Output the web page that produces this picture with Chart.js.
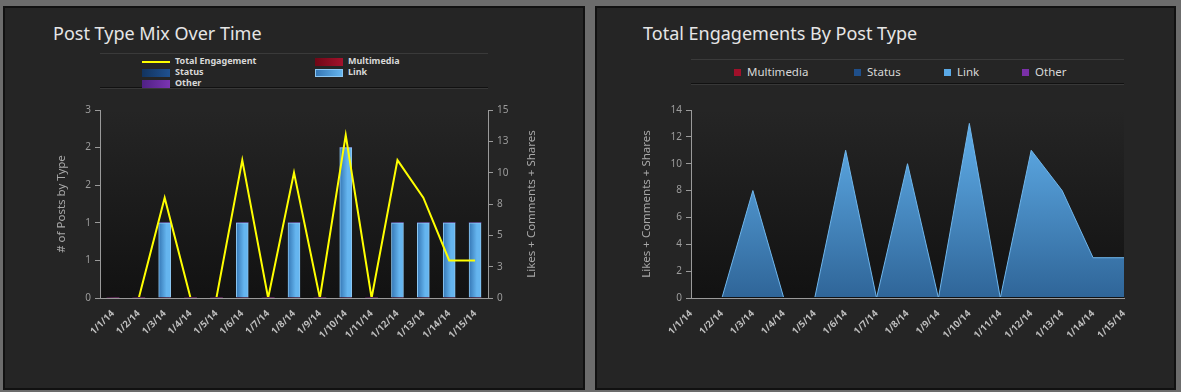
<!DOCTYPE html>
<html>
<head>
<meta charset="utf-8">
<script src="https://cdn.jsdelivr.net/npm/chart.js@4/dist/chart.umd.min.js"></script>
<style>
  body { margin: 0; background: #6c6c6c; width: 1181px; height: 392px; position: relative; overflow: hidden; font-family: "Noto Sans", sans-serif; }
  .panel { position: absolute; box-sizing: border-box; background: #252525; border: 2px solid #111; }
  .title { position: absolute; color: #e6e6e6; font-size: 18px; line-height: 22px; white-space: nowrap; }
  .legend { position: absolute; box-sizing: border-box; border-top: 1px solid #3a3a3a; border-bottom: 1px solid #111; box-shadow: 0 1px 0 #383838; }
  .legend .item { position: absolute; white-space: nowrap; color: #d8d8d8; }
  .legend .sw { display: inline-block; vertical-align: middle; }
  .box { position: absolute; }
</style>
</head>
<body>
<div class="panel" style="left:3px;top:6px;width:582px;height:384px"></div>
<div class="panel" style="left:595px;top:6px;width:581px;height:384px"></div>

<div class="title" style="left:53px;top:22px">Post Type Mix Over Time</div>
<div class="title" style="left:643px;top:22px">Total Engagements By Post Type</div>

<div id="legend1" class="legend" style="left:100px;top:53px;width:388px;height:35px"></div>
<div id="legend2" class="legend" style="left:691px;top:59px;width:433px;height:25px"></div>

<div class="box" style="left:40px;top:100px;width:520px;height:250px"><canvas id="mix"></canvas></div>
<div class="box" style="left:630px;top:100px;width:520px;height:250px"><canvas id="eng"></canvas></div>

<script>
const days = ['1/1/14', '1/2/14', '1/3/14', '1/4/14', '1/5/14', '1/6/14', '1/7/14', '1/8/14',
              '1/9/14', '1/10/14', '1/11/14', '1/12/14', '1/13/14', '1/14/14', '1/15/14'];
// posts per day by type
const multimediaPosts = [0, 0, 0, 0, 0, 0, 0, 0, 0, 0, 0, 0, 0, 0, 0];
const statusPosts     = [0, 0, 0, 0, 0, 0, 0, 0, 0, 0, 0, 0, 0, 0, 0];
const linkPosts       = [0, 0, 1, 0, 0, 1, 0, 1, 0, 2, 0, 1, 1, 1, 1];
const otherPosts      = [0, 0, 0, 0, 0, 0, 0, 0, 0, 0, 0, 0, 0, 0, 0];
// likes + comments + shares per day
const totalEngagement = [0, 0, 8, 0, 0, 11, 0, 10, 0, 13, 0, 11, 8, 3, 3];
const multimediaEng   = [0, 0, 0, 0, 0, 0, 0, 0, 0, 0, 0, 0, 0, 0, 0];
const statusEng       = [0, 0, 0, 0, 0, 0, 0, 0, 0, 0, 0, 0, 0, 0, 0];
const linkEng         = [0, 0, 8, 0, 0, 11, 0, 10, 0, 13, 0, 11, 8, 3, 3];
const otherEng        = [0, 0, 0, 0, 0, 0, 0, 0, 0, 0, 0, 0, 0, 0, 0];

const postTicksMax = 2.5, postTicksStep = 0.5;
const engTicksMax = 15, engTicksStep = 2.5;
const eng2TicksMax = 14, eng2TicksStep = 2;

const colors = {
  total: '#ffff00',
  multimedia: ['#6e0716', '#a3122c'],
  status: ['#12335e', '#1f5190'],
  link: ['#3577b5', '#65b5ef'],
  other: ['#4f2184', '#7b34b2']
};

// ---------- legends ----------
function swatch(c, w, h, border) {
  const s = document.createElement('span');
  s.className = 'sw';
  s.style.width = w + 'px';
  s.style.height = h + 'px';
  s.style.boxSizing = 'border-box';
  s.style.background = Array.isArray(c) ? 'linear-gradient(90deg,' + c[0] + ',' + c[1] + ')' : c;
  if (border) s.style.border = '1px solid ' + border;
  return s;
}
const leg1 = document.getElementById('legend1');
const leg1Items = [
  { name: 'Total Engagement', col: 0, row: 0, line: true },
  { name: 'Multimedia', col: 1, row: 0, c: colors.multimedia },
  { name: 'Status', col: 0, row: 1, c: colors.status },
  { name: 'Link', col: 1, row: 1, c: colors.link, border: '#8cc7f2' },
  { name: 'Other', col: 0, row: 2, c: colors.other }
];
leg1Items.forEach(it => {
  const d = document.createElement('div');
  d.className = 'item';
  d.style.left = (it.col ? 215 : 42) + 'px';
  d.style.top = (1 + it.row * 11) + 'px';
  d.style.font = 'bold 9px "Noto Sans"';
  d.style.lineHeight = '11px';
  let s;
  if (it.line) {
    s = swatch(colors.total, 28, 2);
  } else {
    s = swatch(it.c, 28, 8, it.border);
  }
  s.style.marginRight = '5px';
  d.appendChild(s);
  d.appendChild(document.createTextNode(it.name));
  leg1.appendChild(d);
});

const leg2 = document.getElementById('legend2');
[['Multimedia', '#a0102a', 43], ['Status', '#1f4f8a', 163], ['Link', '#5aa9e6', 253], ['Other', '#7a30a8', 331]]
  .forEach(([name, c, x]) => {
    const d = document.createElement('div');
    d.className = 'item';
    d.style.left = x + 'px';
    d.style.top = '5px';
    d.style.font = '11.5px "Noto Sans"';
    d.style.lineHeight = '14px';
    const s = swatch(c, 7, 7);
    s.style.marginRight = '6px';
    d.appendChild(s);
    d.appendChild(document.createTextNode(name));
    leg2.appendChild(d);
  });

// ---------- shared bits ----------
const plotBg = {
  id: 'plotBg',
  beforeDraw(chart) {
    const { ctx, chartArea: a } = chart;
    const g = ctx.createLinearGradient(0, a.top, 0, a.bottom);
    g.addColorStop(0, '#252525');
    g.addColorStop(1, '#121212');
    ctx.save();
    ctx.fillStyle = g;
    ctx.fillRect(a.left, a.top, a.right - a.left, a.bottom - a.top);
    ctx.restore();
  }
};

const rightTitle = {
  id: 'rightTitle',
  afterDraw(chart) {
    const s = chart.scales.y2;
    const ctx = chart.ctx;
    ctx.save();
    ctx.translate(s.right - 28, (s.top + s.bottom) / 2);
    ctx.rotate(-Math.PI / 2);
    ctx.font = '11.5px "Noto Sans"';
    ctx.fillStyle = '#a8a8a8';
    ctx.textAlign = 'center';
    ctx.textBaseline = 'middle';
    ctx.fillText('Likes + Comments + Shares', 0, 0);
    ctx.restore();
  }
};

const xAxis = (offset) => ({
  offset: offset,
  stacked: true,
  z: 1,
  grid: { display: false },
  border: { color: '#9a9a9a', width: 1 },
  ticks: {
    autoSkip: false, minRotation: 45, maxRotation: 45, padding: 2,
    color: '#bdbdbd', font: { family: 'Noto Sans', size: 9.5, weight: 'bold' }
  },
  afterFit: s => { s.height = 52; }
});

const yTicks = { color: '#9c9c9c', font: { family: 'Noto Sans', size: 10 }, padding: 4 };
const yGrid = { drawOnChartArea: false, tickLength: 5, color: '#9a9a9a' };
const clipAboveAxis = { left: 5, top: 5, right: 5, bottom: -1 };

function barFill(c) {
  return ctx => {
    const chart = ctx.chart;
    if (!chart.chartArea) return c[1];
    const x = chart.scales.x.getPixelForValue(ctx.dataIndex);
    const g = chart.ctx.createLinearGradient(x - 6, 0, x + 6, 0);
    g.addColorStop(0, c[0]);
    g.addColorStop(0.65, c[1]);
    g.addColorStop(1, c[1]);
    return g;
  };
}

const barSet = (label, data, c, bw, bc) => ({
  type: 'bar', label, data, order: 1, yAxisID: 'y',
  backgroundColor: barFill(c), borderColor: bc || c[1], borderWidth: bw,
  borderSkipped: 'bottom', barThickness: 12
});

// ---------- Post Type Mix Over Time ----------
new Chart(document.getElementById('mix'), {
  type: 'bar',
  data: {
    labels: days,
    datasets: [
      { type: 'line', label: 'Total Engagement', data: totalEngagement, yAxisID: 'y2', order: 0,
        borderColor: colors.total, borderWidth: 2, pointRadius: 0, tension: 0, fill: false,
        clip: clipAboveAxis },
      barSet('Multimedia', multimediaPosts, colors.multimedia, 0),
      barSet('Status', statusPosts, colors.status, 0),
      barSet('Link', linkPosts, colors.link, 1, '#8cc7f2'),
      barSet('Other', otherPosts, colors.other, 0)
    ]
  },
  options: {
    responsive: true, maintainAspectRatio: false, animation: false,
    layout: { padding: { top: 8 } },
    plugins: { legend: { display: false }, tooltip: { enabled: false } },
    scales: {
      x: xAxis(true),
      y: {
        stacked: true, min: 0, max: postTicksMax,
        ticks: Object.assign({ stepSize: postTicksStep, callback: v => Math.round(v) }, yTicks),
        grid: yGrid, border: { color: '#9a9a9a' },
        title: { display: true, text: '# of Posts by Type', color: '#a8a8a8',
                 font: { family: 'Noto Sans', size: 11.5 }, padding: { top: 15 } },
        afterFit: s => { s.width = 60; }
      },
      y2: {
        position: 'right', min: 0, max: engTicksMax,
        ticks: Object.assign({ stepSize: engTicksStep, callback: v => Math.round(v) }, yTicks),
        grid: yGrid, border: { color: '#9a9a9a' },
        afterFit: s => { s.width = 72; }
      }
    }
  },
  plugins: [plotBg, rightTitle]
});

// ---------- Total Engagements By Post Type ----------
function areaFill(ctx) {
  const chart = ctx.chart;
  const a = chart.chartArea;
  if (!a) return '#4a90d0';
  const g = chart.ctx.createLinearGradient(0, a.top, 0, a.bottom);
  g.addColorStop(0, '#64b4f0');
  g.addColorStop(1, '#2f6598');
  return g;
}
const areaSet = (label, data, main) => ({
  label, data, fill: main ? 'origin' : false, pointRadius: 0, tension: 0,
  borderWidth: main ? 1 : 0, borderColor: '#6fb6ec',
  backgroundColor: main ? areaFill : 'rgba(0,0,0,0)',
  clip: clipAboveAxis
});

new Chart(document.getElementById('eng'), {
  type: 'line',
  data: {
    labels: days,
    datasets: [
      areaSet('Multimedia', multimediaEng, false),
      areaSet('Status', statusEng, false),
      areaSet('Link', linkEng, true),
      areaSet('Other', otherEng, false)
    ]
  },
  options: {
    responsive: true, maintainAspectRatio: false, animation: false,
    layout: { padding: { top: 8, right: 26 } },
    plugins: { legend: { display: false }, tooltip: { enabled: false } },
    scales: {
      x: xAxis(false),
      y: {
        stacked: true, min: 0, max: eng2TicksMax,
        ticks: Object.assign({ stepSize: eng2TicksStep }, yTicks),
        grid: yGrid, border: { color: '#9a9a9a' },
        title: { display: true, text: 'Likes + Comments + Shares', color: '#a8a8a8',
                 font: { family: 'Noto Sans', size: 11.5 }, padding: { top: 10 } },
        afterFit: s => { s.width = 61; }
      }
    }
  },
  plugins: [plotBg]
});
</script>
</body>
</html>
